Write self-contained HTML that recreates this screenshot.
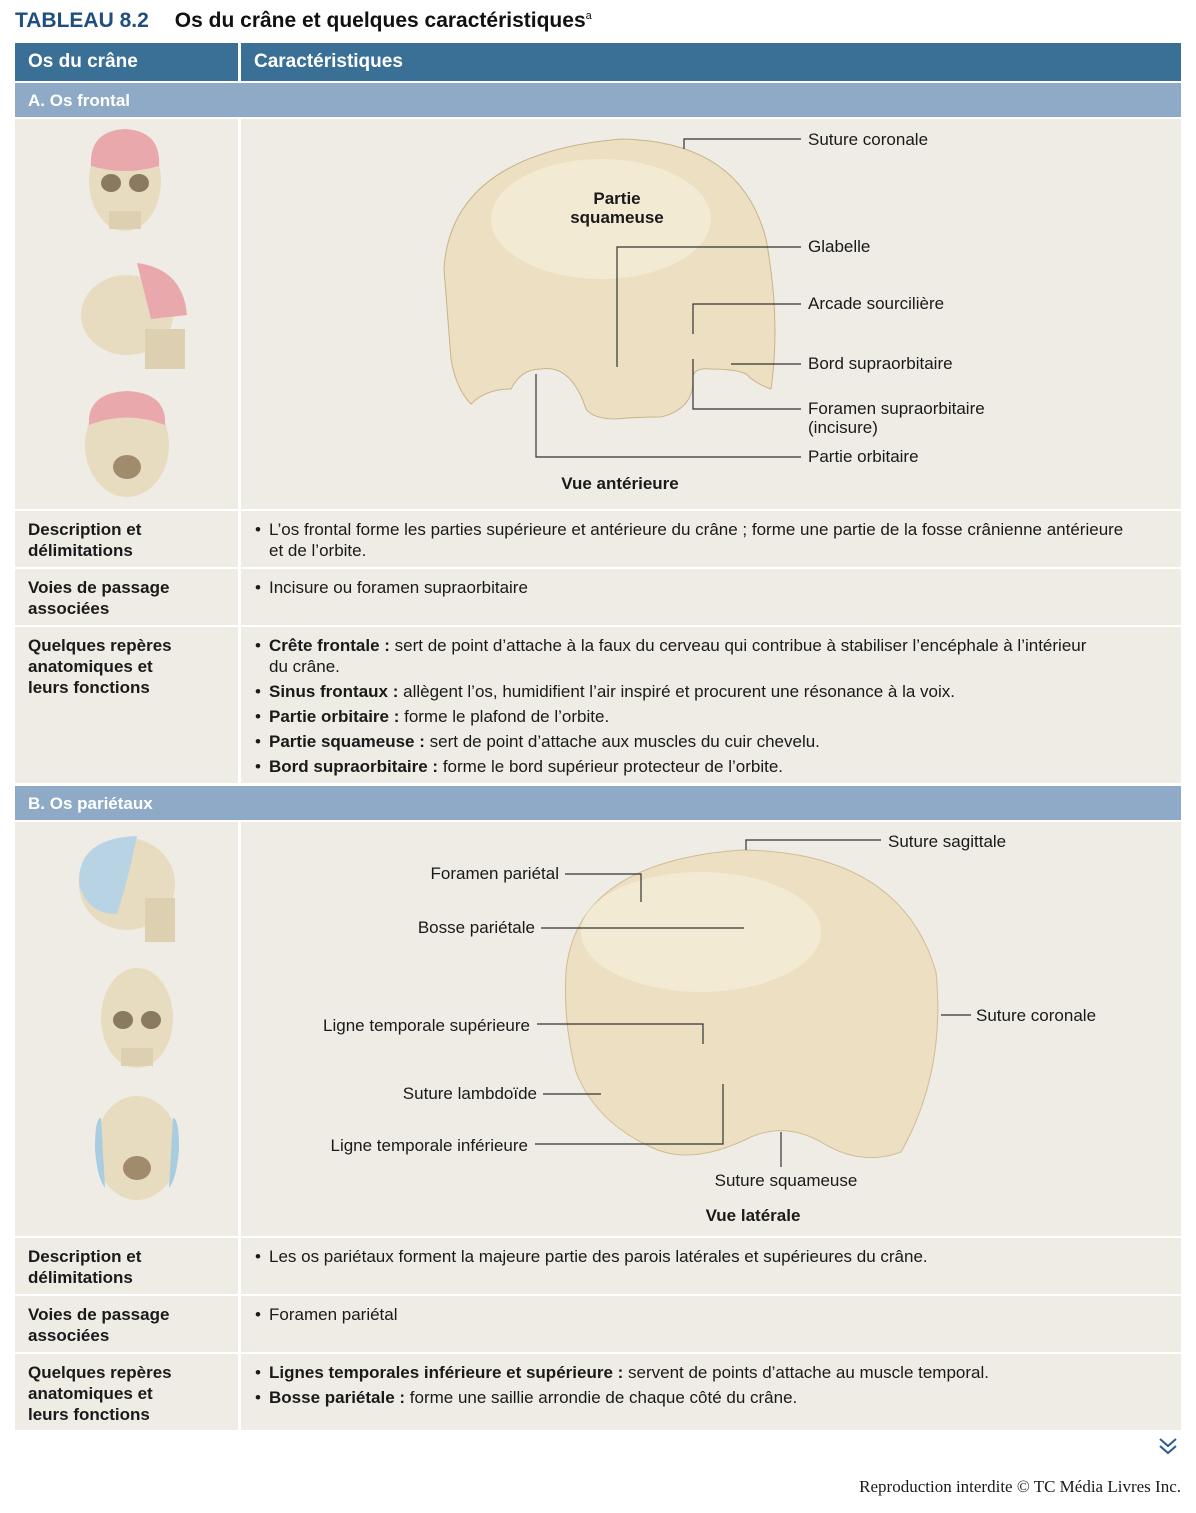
<!DOCTYPE html>
<html><head><meta charset="utf-8">
<style>
body{margin:0;background:#fff;width:1196px;height:1513px;position:relative;font-family:"Liberation Sans",sans-serif;color:#1a1a1a;overflow:hidden}
.a{position:absolute}
.cell{position:absolute;background:#efebe5}
.hd{background:#3a6f96;color:#fff;font-weight:bold;font-size:19px;line-height:38px;padding-left:13px;box-sizing:border-box}
.sec{background:#8eaac6;color:#fff;font-weight:bold;font-size:17px;line-height:35px;padding-left:13px;box-sizing:border-box}
.lab{font-weight:bold;font-size:17px;line-height:21px;padding:8px 60px 8px 13px;box-sizing:border-box}
.txt{font-size:17px;line-height:21px;padding:8px 50px 0 28px;box-sizing:border-box}
.txt p{margin:0 0 4px 0;position:relative}
.txt p:before{content:"•";position:absolute;left:-14px}
.lbl{font-size:17px;fill:#1a1a1a;font-family:"Liberation Sans",sans-serif}
</style></head><body>
<div class="a" style="left:15px;top:9px;font-size:21px;"><b style="color:#1f4f7f">TABLEAU 8.2</b><span style="margin-left:26px;font-weight:bold;color:#111">Os du crâne et quelques caractéristiques<sup style="font-size:11px;font-weight:normal">a</sup></span></div>

<div class="a hd" style="left:15px;top:43px;width:223px;height:38px">Os du crâne</div>
<div class="a hd" style="left:241px;top:43px;width:940px;height:38px">Caractéristiques</div>

<div class="a sec" style="left:15px;top:83px;width:1166px;height:34px">A. Os frontal</div>

<div class="cell" style="left:15px;top:119px;width:223px;height:390px">
<svg width="223" height="390">
<g transform="translate(110,62)"><ellipse rx="36" ry="50" fill="#e8dcc0"/><path d="M-34,-15 Q-36,-50 0,-52 Q36,-50 34,-15 Q0,-5 -34,-15Z" fill="#e8a8ac"/><ellipse cx="-14" cy="2" rx="10" ry="9" fill="#8a7a60"/><ellipse cx="14" cy="2" rx="10" ry="9" fill="#8a7a60"/><rect x="-16" y="30" width="32" height="18" fill="#ddd0b0"/></g>
<g transform="translate(112,196)"><ellipse rx="46" ry="40" fill="#e8dcc0"/><path d="M10,-52 Q56,-46 60,0 L24,4Z" fill="#e8a8ac"/><rect x="18" y="14" width="40" height="40" fill="#ddd0b0"/></g>
<g transform="translate(112,326)"><ellipse rx="42" ry="52" fill="#e8dcc0"/><path d="M-38,-20 Q-40,-52 0,-54 Q40,-52 38,-20 Q0,-35 -38,-20Z" fill="#e8a8ac"/><ellipse cy="22" rx="14" ry="12" fill="#a08c6c"/></g>
</svg></div>
<div class="cell" style="left:241px;top:119px;width:940px;height:390px">
<svg width="940" height="390">
<path d="M203,150 Q210,35 380,20 Q500,22 525,120 Q540,200 530,270 Q515,265 505,255 Q495,250 470,250 Q450,248 452,262 Q452,290 420,298 Q395,298 375,300 Q352,300 345,290 Q330,245 300,250 Q280,250 270,270 Q245,270 230,285 Q215,270 210,240 Z" fill="#ecdfc2" stroke="#c8b48a"/>
<ellipse cx="360" cy="100" rx="110" ry="60" fill="#f6eedc" opacity=".7"/>
<g stroke="#333" fill="none" stroke-width="1.2">
<polyline points="443,30 443,20 560,20"/>
<polyline points="376,248 376,128 560,128"/>
<polyline points="452,215 452,185 560,185"/>
<line x1="490" y1="245" x2="560" y2="245"/>
<polyline points="452,240 452,290 560,290"/>
<polyline points="295,255 295,338 560,338"/>
</g>
<text class="lbl" x="567" y="26">Suture coronale</text>
<text class="lbl" x="567" y="133">Glabelle</text>
<text class="lbl" x="567" y="190">Arcade sourcilière</text>
<text class="lbl" x="567" y="250">Bord supraorbitaire</text>
<text class="lbl" x="567" y="295">Foramen supraorbitaire</text>
<text class="lbl" x="567" y="314">(incisure)</text>
<text class="lbl" x="567" y="343">Partie orbitaire</text>
<text class="lbl" x="376" y="85" text-anchor="middle" font-weight="bold">Partie</text>
<text class="lbl" x="376" y="104" text-anchor="middle" font-weight="bold">squameuse</text>
<text class="lbl" x="379" y="370" text-anchor="middle" font-weight="bold">Vue antérieure</text>
</svg></div>

<div class="cell lab" style="left:15px;top:511px;width:223px;height:56px">Description et délimitations</div>
<div class="cell txt" style="left:241px;top:511px;width:940px;height:56px"><p>L’os frontal forme les parties supérieure et antérieure du crâne ; forme une partie de la fosse crânienne antérieure et de l’orbite.</p></div>
<div class="cell lab" style="left:15px;top:569px;width:223px;height:56px">Voies de passage associées</div>
<div class="cell txt" style="left:241px;top:569px;width:940px;height:56px"><p>Incisure ou foramen supraorbitaire</p></div>
<div class="cell lab" style="left:15px;top:627px;width:223px;height:156px">Quelques repères anatomiques et leurs fonctions</div>
<div class="cell txt" style="left:241px;top:627px;width:940px;height:156px;padding-right:80px">
<p><b>Crête frontale :</b> sert de point d’attache à la faux du cerveau qui contribue à stabiliser l’encéphale à l’intérieur du crâne.</p>
<p><b>Sinus frontaux :</b> allègent l’os, humidifient l’air inspiré et procurent une résonance à la voix.</p>
<p><b>Partie orbitaire :</b> forme le plafond de l’orbite.</p>
<p><b>Partie squameuse :</b> sert de point d’attache aux muscles du cuir chevelu.</p>
<p><b>Bord supraorbitaire :</b> forme le bord supérieur protecteur de l’orbite.</p></div>

<div class="a sec" style="left:15px;top:786px;width:1166px;height:34px">B. Os pariétaux</div>

<div class="cell" style="left:15px;top:822px;width:223px;height:414px">
<svg width="223" height="414">
<g transform="translate(112,62)"><ellipse rx="48" ry="46" fill="#e8dcc0"/><path d="M-48,0 Q-50,-46 10,-48 Q0,0 -10,30 Q-40,30 -48,0Z" fill="#b8d4e4"/><rect x="18" y="14" width="30" height="44" fill="#ddd0b0"/></g>
<g transform="translate(122,196)"><ellipse rx="36" ry="50" fill="#e8dcc0"/><ellipse cx="-14" cy="2" rx="10" ry="9" fill="#8a7a60"/><ellipse cx="14" cy="2" rx="10" ry="9" fill="#8a7a60"/><rect x="-16" y="30" width="32" height="18" fill="#ddd0b0"/></g>
<g transform="translate(122,326)"><ellipse rx="42" ry="52" fill="#e8dcc0"/><path d="M-42,0 Q-42,-30 -36,-30 L-32,40 Q-40,30 -42,0Z" fill="#a8cce0"/><path d="M42,0 Q42,-30 36,-30 L32,40 Q40,30 42,0Z" fill="#a8cce0"/><ellipse cy="20" rx="14" ry="12" fill="#a08c6c"/></g>
</svg></div>
<div class="cell" style="left:241px;top:822px;width:940px;height:414px">
<svg width="940" height="414">
<path d="M325,150 Q335,40 500,28 Q660,30 695,150 Q705,250 660,330 Q620,345 580,320 Q545,300 510,315 Q450,345 410,325 Q355,300 335,250 Q322,200 325,150Z" fill="#ecdfc2" stroke="#d0bc94"/>
<ellipse cx="460" cy="110" rx="120" ry="60" fill="#f6eedc" opacity=".7"/>
<g stroke="#333" fill="none" stroke-width="1.2">
<polyline points="505,28 505,18 640,18"/>
<polyline points="324,52 400,52 400,80"/>
<line x1="300" y1="106" x2="503" y2="106"/>
<polyline points="296,202 462,202 462,222"/>
<line x1="302" y1="272" x2="360" y2="272"/>
<polyline points="294,322 482,322 482,262"/>
<line x1="540" y1="310" x2="540" y2="345"/>
<line x1="700" y1="193" x2="730" y2="193"/>
</g>
<text class="lbl" x="647" y="25">Suture sagittale</text>
<text class="lbl" x="318" y="57" text-anchor="end">Foramen pariétal</text>
<text class="lbl" x="294" y="111" text-anchor="end">Bosse pariétale</text>
<text class="lbl" x="289" y="209" text-anchor="end">Ligne temporale supérieure</text>
<text class="lbl" x="296" y="277" text-anchor="end">Suture lambdoïde</text>
<text class="lbl" x="287" y="329" text-anchor="end">Ligne temporale inférieure</text>
<text class="lbl" x="735" y="199">Suture coronale</text>
<text class="lbl" x="545" y="364" text-anchor="middle">Suture squameuse</text>
<text class="lbl" x="512" y="399" text-anchor="middle" font-weight="bold">Vue latérale</text>
</svg></div>

<div class="cell lab" style="left:15px;top:1238px;width:223px;height:56px">Description et délimitations</div>
<div class="cell txt" style="left:241px;top:1238px;width:940px;height:56px"><p>Les os pariétaux forment la majeure partie des parois latérales et supérieures du crâne.</p></div>
<div class="cell lab" style="left:15px;top:1296px;width:223px;height:56px">Voies de passage associées</div>
<div class="cell txt" style="left:241px;top:1296px;width:940px;height:56px"><p>Foramen pariétal</p></div>
<div class="cell lab" style="left:15px;top:1354px;width:223px;height:76px">Quelques repères anatomiques et leurs fonctions</div>
<div class="cell txt" style="left:241px;top:1354px;width:940px;height:76px">
<p><b>Lignes temporales inférieure et supérieure :</b> servent de points d’attache au muscle temporal.</p>
<p><b>Bosse pariétale :</b> forme une saillie arrondie de chaque côté du crâne.</p></div>

<svg class="a" style="left:1158px;top:1437px" width="20" height="20"><polyline points="2,2 10,9 18,2" fill="none" stroke="#2a5e8e" stroke-width="2"/><polyline points="2,9 10,16 18,9" fill="none" stroke="#2a5e8e" stroke-width="2"/></svg>
<div class="a" style="right:15px;top:1477px;font-family:'Liberation Serif',serif;font-size:17px">Reproduction interdite © TC Média Livres Inc.</div>
</body></html>
